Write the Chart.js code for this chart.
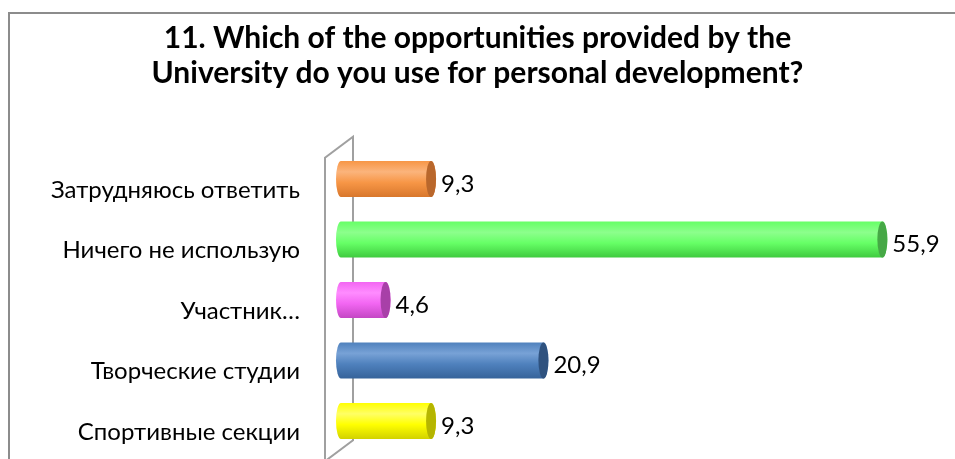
<!DOCTYPE html>
<html><head><meta charset="utf-8">
<script src="https://cdn.jsdelivr.net/npm/chart.js@4"></script>
<style>html,body{margin:0;padding:0;background:#fff}</style>
</head><body>
<canvas id="c" width="955" height="459"></canvas>
<script>
const categories = ['Затрудняюсь ответить', 'Ничего не использую', 'Участник…', 'Творческие студии', 'Спортивные секции'];
const values = [9.3, 55.9, 4.6, 20.9, 9.3];
const valueLabels = ['9,3', '55,9', '4,6', '20,9', '9,3'];
const titleLines = ['11. Which of the opportunities provided by the', 'University do you use for personal development?'];
// light (top), mid, dark (bottom), cap
const barShades = [
  ['#FBB47C', '#F79646', '#D8772C', '#B9672C'],
  ['#8CFF8C', '#66FF66', '#3FCB3F', '#46A846'],
  ['#FF8CFF', '#F266F2', '#C447C4', '#A840A8'],
  ['#78A2D6', '#4F81BD', '#36639A', '#2F527F'],
  ['#FFFF66', '#FFFF00', '#D2D200', '#B5B500']
];

const framePlugin = {
  id: 'frame',
  beforeDraw(chart) {
    const ctx = chart.ctx;
    ctx.save();
    ctx.fillStyle = '#fff';
    ctx.fillRect(0, 0, chart.width, chart.height);
    ctx.strokeStyle = '#8C8C8C';
    ctx.lineWidth = 2;
    ctx.strokeRect(9, 13, chart.width + 20, chart.height + 20);
    ctx.restore();
  }
};

const wallPlugin = {
  id: 'wall',
  beforeDatasetsDraw(chart) {
    const a = chart.chartArea, ctx = chart.ctx;
    const fx = a.left - 16, bx = a.left + 12;
    ctx.save();
    ctx.strokeStyle = '#A0A0A0';
    ctx.lineWidth = 2;
    ctx.beginPath();
    ctx.moveTo(fx, chart.height + 5);
    ctx.lineTo(fx, a.top + 9);
    ctx.lineTo(bx, a.top - 12);
    ctx.lineTo(bx, a.bottom - 11);
    ctx.lineTo(fx, a.bottom + 10);
    ctx.stroke();
    ctx.restore();
  }
};

const cylinderPlugin = {
  id: 'cyl',
  afterDatasetsDraw(chart) {
    const ctx = chart.ctx;
    const meta = chart.getDatasetMeta(0);
    meta.data.forEach((el, i) => {
      const p = el.getProps(['x', 'y', 'base', 'height'], true);
      const x1 = p.x, x0 = p.base, y = p.y, h = p.height;
      const rx = 5, ry = h / 2;
      const s = barShades[i];
      ctx.save();
      const g = ctx.createLinearGradient(0, y - ry, 0, y + ry);
      g.addColorStop(0, s[1]);
      g.addColorStop(0.3, s[0]);
      g.addColorStop(0.6, s[1]);
      g.addColorStop(1, s[2]);
      ctx.fillStyle = g;
      ctx.beginPath();
      ctx.moveTo(x1, y - ry);
      ctx.lineTo(x0, y - ry);
      ctx.ellipse(x0, y, rx, ry, 0, -Math.PI / 2, Math.PI / 2, true);
      ctx.lineTo(x1, y + ry);
      ctx.ellipse(x1, y, rx, ry, 0, Math.PI / 2, -Math.PI / 2, true);
      ctx.closePath();
      ctx.fill();
      ctx.fillStyle = s[3];
      ctx.beginPath();
      ctx.ellipse(x1, y, rx, ry, 0, 0, Math.PI * 2);
      ctx.fill();
      ctx.fillStyle = '#000';
      ctx.font = '24px Lato';
      ctx.textAlign = 'left';
      ctx.textBaseline = 'middle';
      ctx.fillText(valueLabels[i], x1 + rx + 5, y + 5);
      ctx.restore();
    });
  }
};

new Chart(document.getElementById('c'), {
  type: 'bar',
  data: {
    labels: categories,
    datasets: [{
      data: values,
      backgroundColor: 'rgba(0,0,0,0)',
      borderWidth: 0,
      categoryPercentage: 1,
      barPercentage: 0.595
    }]
  },
  options: {
    indexAxis: 'y',
    responsive: false,
    animation: false,
    devicePixelRatio: 1,
    layout: { padding: { left: 0, right: 0, top: 0, bottom: 7.75 } },
    plugins: {
      legend: { display: false },
      tooltip: { enabled: false },
      title: {
        display: true,
        text: titleLines,
        color: '#000',
        font: { family: 'Lato', size: 30, weight: 'bold', lineHeight: 1.1667 },
        padding: { top: 20.5, bottom: 58.25 }
      }
    },
    scales: {
      x: { display: false, min: 0, max: 63.4 },
      y: {
        grid: { display: false, drawTicks: false },
        border: { display: false },
        ticks: { padding: 41, labelOffset: 11, color: '#000', font: { family: 'Lato', size: 24 } },
        afterFit(s) { s.width = 341; s.paddingTop = 0; s.paddingBottom = 0; }
      }
    }
  },
  plugins: [framePlugin, wallPlugin, cylinderPlugin]
});
</script>
</body></html>
